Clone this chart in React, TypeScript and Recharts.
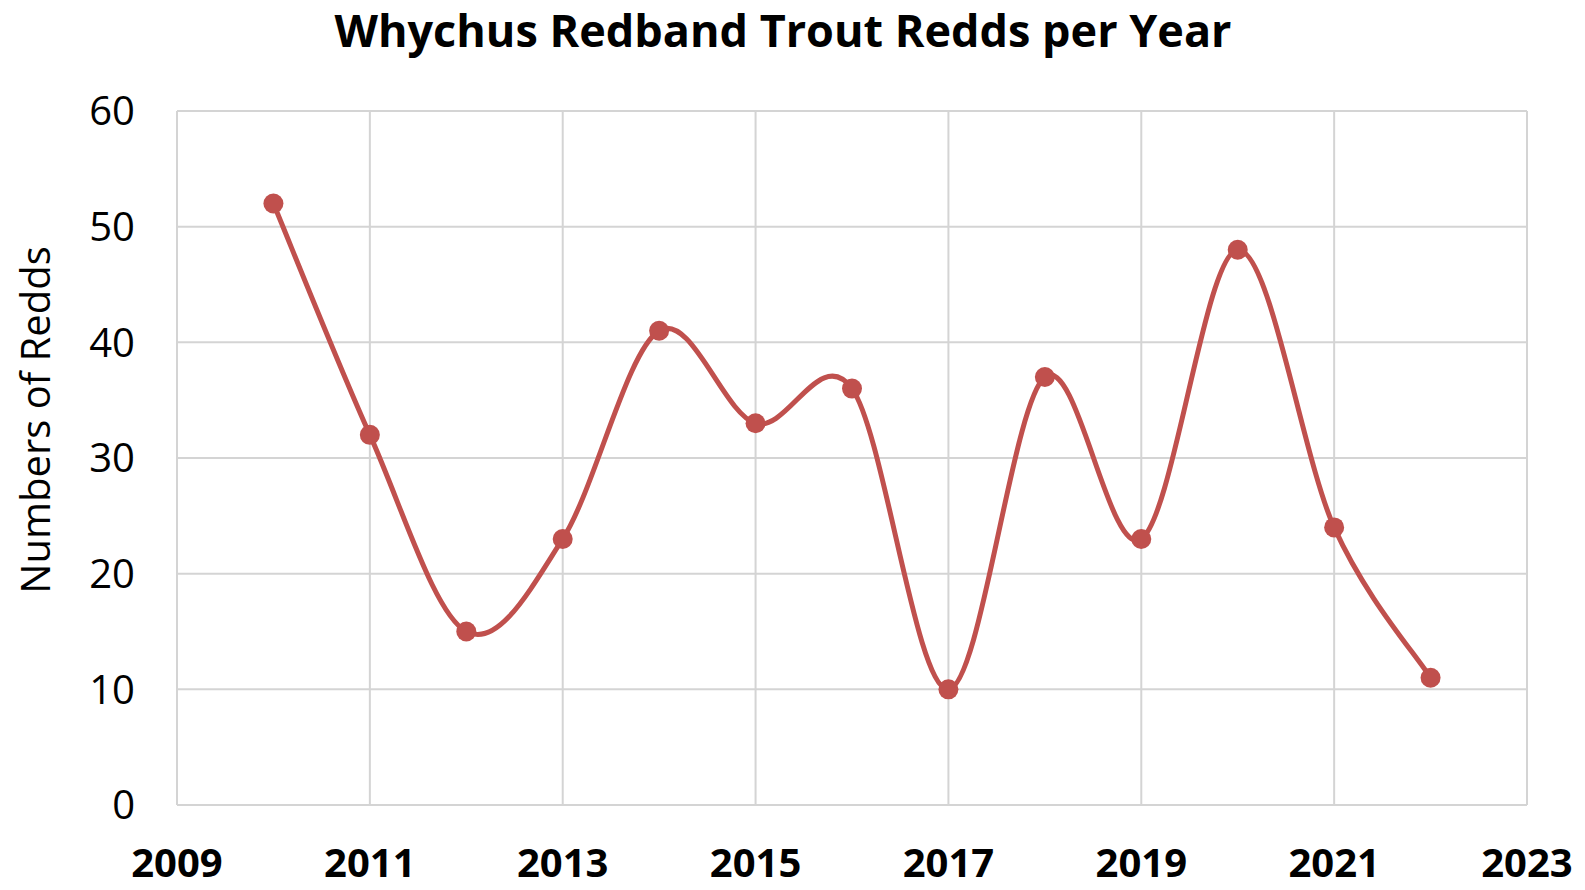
import React from "react";
import { LineChart, Line, XAxis, YAxis, CartesianGrid } from "recharts";

const years = [2010, 2011, 2012, 2013, 2014, 2015, 2016, 2017, 2018, 2019, 2020, 2021, 2022];
const redds = [52, 32, 15, 23, 41, 33, 36, 10, 37, 23, 48, 24, 11];
const xTicks = [2009, 2011, 2013, 2015, 2017, 2019, 2021, 2023];
const yTicks = [0, 10, 20, 30, 40, 50, 60];

const data = years.map((year, i) => ({ year, redds: redds[i] }));

const FONT = "'Open Sans', sans-serif";
const RED = "#C0504D";
const GRID = "#d4d4d4";

// Excel-style smoothed line (Catmull-Rom converted to bezier segments)
function excelSmooth(context: any) {
  let pts: [number, number][] = [];
  return {
    areaStart() {},
    areaEnd() {},
    lineStart() {
      pts = [];
    },
    lineEnd() {
      if (!pts.length) return;
      context.moveTo(pts[0][0], pts[0][1]);
      for (let i = 0; i < pts.length - 1; i++) {
        const p0 = pts[i - 1] || pts[i];
        const p1 = pts[i];
        const p2 = pts[i + 1];
        const p3 = pts[i + 2] || p2;
        context.bezierCurveTo(
          p1[0] + (p2[0] - p0[0]) / 6,
          p1[1] + (p2[1] - p0[1]) / 6,
          p2[0] - (p3[0] - p1[0]) / 6,
          p2[1] - (p3[1] - p1[1]) / 6,
          p2[0],
          p2[1]
        );
      }
    },
    point(x: number, y: number) {
      pts.push([+x, +y]);
    },
  };
}

function YLabel() {
  return (
    <text
      x={50}
      y={420}
      transform="rotate(-90, 50, 420)"
      textAnchor="middle"
      fontFamily={FONT}
      fontSize={40}
      fill="#000"
    >
      Numbers of Redds
    </text>
  );
}

export default function App() {
  return (
    <div style={{ position: "relative", width: 1585, height: 890, background: "#fff" }}>
      <style>{"body{margin:0;background:#fff}"}</style>
      <div
        style={{
          position: "absolute",
          top: 0,
          left: 0,
          width: 1566,
          textAlign: "center",
          fontFamily: FONT,
          fontWeight: 700,
          fontSize: 45,
          lineHeight: "60px",
          color: "#000",
        }}
      >
        Whychus Redband Trout Redds per Year
      </div>
      <LineChart
        width={1585}
        height={890}
        data={data}
        margin={{ top: 111, right: 58, bottom: 0, left: 0 }}
      >
        <CartesianGrid stroke={GRID} strokeWidth={2} />
        <XAxis
          dataKey="year"
          type="number"
          domain={[2009, 2023]}
          ticks={xTicks}
          interval={0}
          height={85}
          tickSize={0}
          tickMargin={44}
          axisLine={{ stroke: GRID, strokeWidth: 2 }}
          tickLine={false}
          tick={{ fontFamily: FONT, fontSize: 40, fontWeight: 700, fill: "#000" }}
        />
        <YAxis
          type="number"
          domain={[0, 60]}
          ticks={yTicks}
          interval={0}
          width={177}
          tickSize={0}
          tickMargin={42}
          axisLine={{ stroke: GRID, strokeWidth: 2 }}
          tickLine={false}
          tick={{ fontFamily: FONT, fontSize: 40, fill: "#000" }}
          label={() => <YLabel />}
        />
        <Line
          dataKey="redds"
          type={excelSmooth as any}
          stroke={RED}
          strokeWidth={5}
          dot={{ r: 10, fill: RED, stroke: RED, strokeWidth: 0 }}
          activeDot={false}
          isAnimationActive={false}
        />
      </LineChart>
    </div>
  );
}
